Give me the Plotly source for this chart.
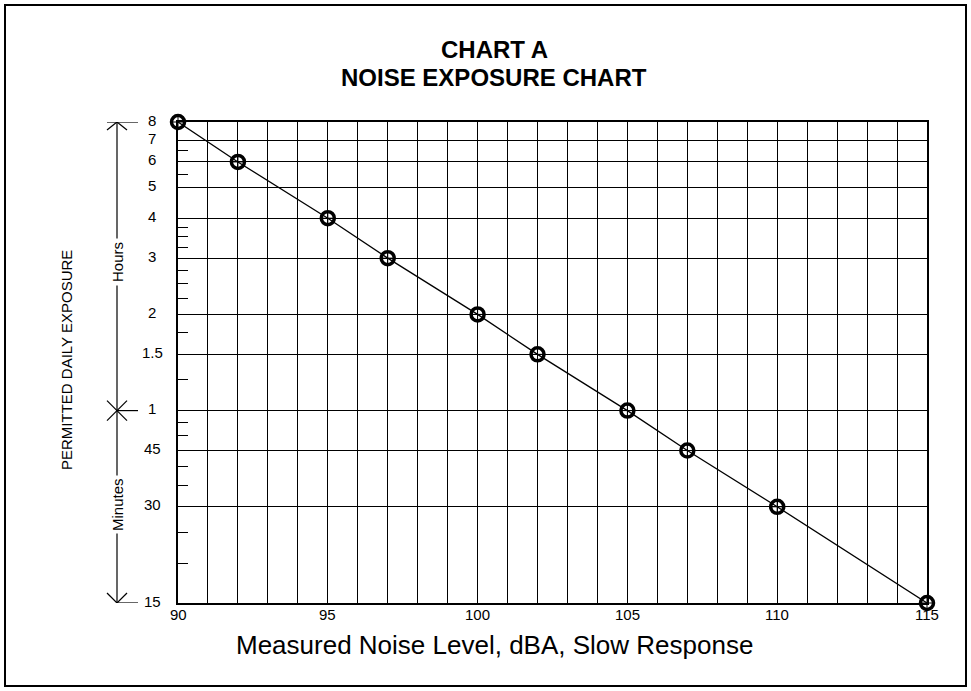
import math
import plotly.graph_objects as go

# ---- data ----
noise_dba = [90, 92, 95, 97, 100, 102, 105, 107, 110, 115]
exposure_hours = [8, 6, 4, 3, 2, 1.5, 1, 0.75, 0.5, 0.25]

x_grid = list(range(90, 116))
x_label_vals = [90, 95, 100, 105, 110, 115]

y_major = [8, 7, 6, 5, 4, 3, 2, 1.5, 1, 0.75, 0.5, 0.25]
y_major_text = ["8", "7", "6", "5", "4", "3", "2", "1.5", "1", "45", "30", "15"]
y_minor = [6.5, 5.5, 3.75, 3.5, 3.25, 2.75, 2.5, 2.25, 1.75, 1.25,
           55 / 60, 50 / 60, 40 / 60, 35 / 60, 25 / 60, 20 / 60]

FONT = "Liberation Sans, Arial, sans-serif"
W, H = 971, 691
L, R, T, B = 178, 44, 122, 88
PW, PH = W - L - R, H - T - B


def px(xp):
    return (xp - L) / PW


def py(yp):
    return (H - B - yp) / PH


fig = go.Figure()
fig.add_trace(go.Scatter(
    x=noise_dba, y=exposure_hours, mode="lines+markers",
    line=dict(color="black", width=1.3),
    marker=dict(symbol="circle-open", size=13, color="black",
                line=dict(color="black", width=3.5)),
    cliponaxis=False, showlegend=False, hoverinfo="skip",
))
fig.add_trace(go.Scatter(
    x=noise_dba, y=exposure_hours, mode="markers",
    marker=dict(symbol="cross-thin-open", size=7, color="black",
                line=dict(color="black", width=1)),
    cliponaxis=False, showlegend=False, hoverinfo="skip",
))

shapes = []
# outer frame
shapes.append(dict(type="rect", xref="paper", yref="paper",
                   x0=px(5), x1=px(966), y0=py(686), y1=py(5),
                   line=dict(color="black", width=2), layer="below"))

# hours / minutes bracket (shape y values are data values on the log axis)
bx = px(117)
ax = 10 / PW
f10 = 10 ** (10 / 320)  # about 10 px
f8 = 10 ** (8 / 320)
ytop, ymid, ybot = 8, 1, 0.25
blk = dict(color="black", width=1.2)


def seg(x0, y0, x1, y1):
    shapes.append(dict(type="line", xref="paper", yref="y",
                       x0=x0, y0=y0, x1=x1, y1=y1, line=blk))


seg(bx, ybot, bx, ytop)
seg(px(107), ytop, px(138), ytop)
seg(bx - ax, ytop / f8, bx, ytop)
seg(bx + ax, ytop / f8, bx, ytop)
seg(bx, ymid, px(138), ymid)
seg(bx - ax, ymid * f10, bx + ax, ymid / f10)
seg(bx - ax, ymid / f10, bx + ax, ymid * f10)
seg(bx, ybot, px(138), ybot)
seg(bx - ax, ybot * f10, bx, ybot)
seg(bx + ax, ybot * f10, bx, ybot)

txt = dict(family=FONT, size=15, color="black")
annotations = []
for v, t in zip(y_major, y_major_text):
    annotations.append(dict(text=t, xref="paper", yref="y", x=px(152), y=math.log10(v),
                            xanchor="center", yanchor="middle", yshift=2, showarrow=False,
                            font=txt))
for v in x_label_vals:
    annotations.append(dict(text=str(v), xref="x", yref="paper", x=v, y=py(614),
                            xanchor="center", yanchor="middle", showarrow=False, font=txt))
annotations.append(dict(text="Hours", xref="paper", yref="paper", x=bx, y=py(262),
                        xanchor="center", yanchor="middle",
                        textangle=-90, showarrow=False, bgcolor="white", borderpad=3,
                        font=txt))
annotations.append(dict(text="Minutes", xref="paper", yref="paper", x=bx, y=py(505),
                        xanchor="center", yanchor="middle",
                        textangle=-90, showarrow=False, bgcolor="white", borderpad=2,
                        font=txt))
annotations.append(dict(text="PERMITTED DAILY EXPOSURE", xref="paper", yref="paper",
                        x=px(66), y=py(360), xanchor="center", yanchor="middle",
                        textangle=-90, showarrow=False,
                        font=dict(family=FONT, size=15, color="black")))
annotations.append(dict(text="<b>CHART A</b>", xref="paper", yref="paper",
                        x=px(494), y=py(49), xanchor="center", yanchor="middle", showarrow=False,
                        font=dict(family=FONT, size=24, color="black")))
annotations.append(dict(text="<b>NOISE EXPOSURE CHART</b>", xref="paper", yref="paper",
                        x=px(494), y=py(77), xanchor="center", yanchor="middle", showarrow=False,
                        font=dict(family=FONT, size=24, color="black")))
annotations.append(dict(text="Measured Noise Level, dBA, Slow Response", xref="paper", yref="paper",
                        x=px(494), y=py(645), xanchor="center", yanchor="middle", showarrow=False,
                        font=dict(family=FONT, size=26, color="black")))

fig.update_layout(
    width=W, height=H,
    margin=dict(l=L, r=R, t=T, b=B, pad=0),
    paper_bgcolor="white", plot_bgcolor="white",
    shapes=shapes, annotations=annotations,
    xaxis=dict(range=[90, 115], tickmode="array", tickvals=x_grid, showticklabels=False,
               showgrid=True, gridcolor="black", gridwidth=1.4,
               showline=True, linecolor="black", linewidth=1.6, mirror=True,
               ticks="", zeroline=False),
    yaxis=dict(type="log", range=[math.log10(0.25), math.log10(8)],
               tickmode="array", tickvals=y_major, showticklabels=False,
               showgrid=True, gridcolor="black", gridwidth=1.4,
               showline=True, linecolor="black", linewidth=1.6, mirror=True,
               ticks="", zeroline=False,
               minor=dict(tickmode="array", tickvals=y_minor, ticks="inside",
                          ticklen=10, tickwidth=1.3, tickcolor="black", showgrid=False)),
)

fig.write_html("out.html", config={"displayModeBar": False},
               post_script="document.body.style.margin='0px';")
